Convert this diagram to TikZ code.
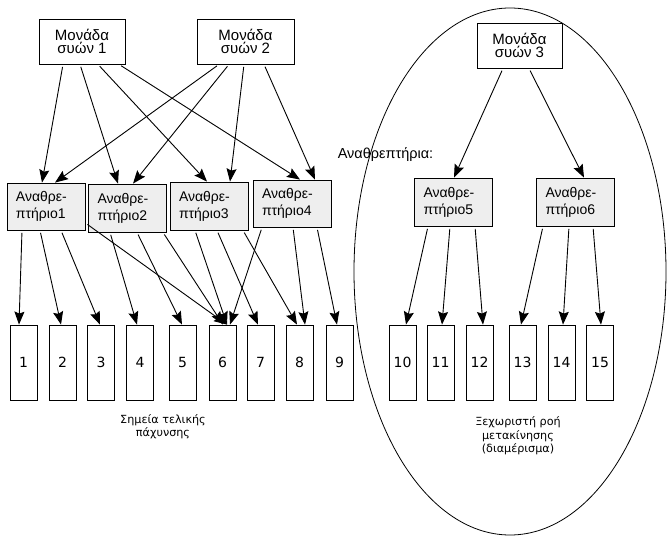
\documentclass[tikz,border=0pt]{standalone}
\usepackage{fontspec}
\setmainfont{Liberation Sans}
\newfontfamily\libfont{Liberation Sans}
\newfontfamily\dvsfont{DejaVu Sans}
\usetikzlibrary{arrows.meta}
\definecolor{reffill}{RGB}{238,238,238}
\begin{document}
\begin{tikzpicture}[x=1pt,y=-1pt,
  unitbox/.style={draw, line width=0.8pt, fill=white, minimum width=86pt, minimum height=45pt, inner sep=0pt, align=center, font=\libfont\fontsize{15}{13.5}\selectfont},
  reflbox/.style={draw, line width=0.8pt, fill=reffill, minimum width=78pt, minimum height=47pt, text width=60pt, inner xsep=9pt, inner ysep=0pt, align=left, font=\libfont\fontsize{14}{17}\selectfont},
  leafbox/.style={draw, line width=0.8pt, fill=white, minimum width=27pt, minimum height=75pt, inner sep=0pt, font=\dvsfont\fontsize{14}{14}\selectfont},
  lbltext/.style={align=center, inner sep=0pt, font=\dvsfont\fontsize{11.2}{13.5}\selectfont},
  arr/.style={-{Stealth[length=13pt,width=10pt,inset=2pt]}, line width=0.9pt, shorten <=2.5pt}
]
\useasboundingbox (0,0) rectangle (667,537);
% partition ellipse
\draw[line width=0.8pt] (510,271.5) ellipse [x radius=156pt, y radius=263.5pt];

% pig units
\node[unitbox] (m1) at (82,41.5) {Μονάδα\\συών 1};
\node[unitbox, minimum width=97pt] (m2) at (245.5,41.5) {Μονάδα\\συών 2};
\node[unitbox, minimum width=85pt] (m3) at (519.5,45.5) {Μονάδα\\συών 3};

% nurseries
\node[reflbox] (r1) at (46,206.5) {Αναθρε-\\πτήριο1};
\node[reflbox, minimum height=48pt] (r2) at (127.5,208) {Αναθρε-\\πτήριο2};
\node[reflbox, minimum height=48pt] (r3) at (209,206) {Αναθρε-\\πτήριο3};
\node[reflbox] (r4) at (292,203.5) {Αναθρε-\\πτήριο4};
\node[reflbox, minimum height=48pt] (r5) at (453.5,202) {Αναθρε-\\πτήριο5};
\node[reflbox, minimum height=48pt] (r6) at (575.5,202) {Αναθρε-\\πτήριο6};

\node[inner sep=0pt, font=\libfont\fontsize{14.5}{16}\selectfont] (rl) at (385.5,155) {Αναθρεπτήρια:};

% finishing sites
\node[leafbox] (l1) at (23.5,362.5) {1};
\node[leafbox] (l2) at (62.5,362.5) {2};
\node[leafbox] (l3) at (101,362.5) {3};
\node[leafbox] (l4) at (140,362.5) {4};
\node[leafbox] (l5) at (182.5,362.5) {5};
\node[leafbox] (l6) at (222.5,362.5) {6};
\node[leafbox] (l7) at (260.5,362.5) {7};
\node[leafbox] (l8) at (299.5,362.5) {8};
\node[leafbox] (l9) at (339.5,362.5) {9};
\node[leafbox] (l10) at (402.5,362.5) {10};
\node[leafbox] (l11) at (440.5,362.5) {11};
\node[leafbox] (l12) at (479.5,362.5) {12};
\node[leafbox] (l13) at (522.5,362.5) {13};
\node[leafbox] (l14) at (561.5,362.5) {14};
\node[leafbox] (l15) at (600,362.5) {15};

\node[lbltext] (lb1) at (163,426.5) {Σημεία τελικής\\πάχυνσης};
\node[lbltext] (lb2) at (518,436) {Ξεχωριστή ροή\\μετακίνησης\\(διαμέρισμα)};

% units -> nurseries
\draw[arr] ([xshift=-19pt]m1.south) -- ([xshift=-4pt]r1.north);
\draw[arr] ([xshift=-2pt]m1.south) -- ([xshift=-9.5pt]r2.north);
\draw[arr] ([xshift=16pt]m1.south) -- ([xshift=-2pt]r3.north);
\draw[arr] ([xshift=37pt]m1.south) -- ([xshift=8pt]r4.north);
\draw[arr] ([xshift=-26.5pt]m2.south) -- ([xshift=9pt]r1.north);
\draw[arr] ([xshift=-16.5pt]m2.south) -- ([xshift=5.5pt]r2.north);
\draw[arr] ([xshift=-1.5pt]m2.south) -- ([xshift=21pt]r3.north);
\draw[arr] ([xshift=18.5pt]m2.south) -- ([xshift=23pt]r4.north);
\draw[arr] ([xshift=-16.5pt]m3.south) -- ([xshift=0.5pt]r5.north);
\draw[arr] ([xshift=9.5pt]m3.south) -- ([xshift=8.5pt]r6.north);

% nurseries -> finishing sites
\draw[arr] ([xshift=-24pt]r1.south) -- ([xshift=-4.5pt]l1.north);
\draw[arr] ([xshift=-6pt]r1.south) -- ([xshift=-1.5pt]l2.north);
\draw[arr] ([xshift=15pt]r1.south) -- ([xshift=-1pt]l3.north);
\draw[arr] ([yshift=-16.5pt]r1.east) -- ([xshift=4.5pt]l6.north);
\draw[arr] ([xshift=-17.5pt]r2.south) -- ([xshift=-3pt]l4.north);
\draw[arr] ([xshift=9.5pt]r2.south) -- ([xshift=-0.5pt]l5.north);
\draw[arr] ([xshift=35.5pt]r2.south) -- ([xshift=0.5pt]l6.north);
\draw[arr] ([xshift=-14pt]r3.south) -- ([xshift=4.5pt]l6.north);
\draw[arr] ([xshift=8pt]r3.south) -- ([xshift=-2.5pt]l7.north);
\draw[arr] ([xshift=34pt]r3.south) -- ([xshift=-2.5pt]l8.north);
\draw[arr] ([xshift=-30pt]r4.south) -- ([xshift=7.5pt]l6.north);
\draw[arr] ([xshift=1pt]r4.south) -- ([xshift=5.5pt]l8.north);
\draw[arr] ([xshift=25pt]r4.south) -- ([xshift=-2.5pt]l9.north);
\draw[arr] ([xshift=-25.5pt]r5.south) -- ([xshift=3.5pt]l10.north);
\draw[arr] ([xshift=-3.5pt]r5.south) -- ([xshift=1.5pt]l11.north);
\draw[arr] ([xshift=21.5pt]r5.south) -- ([xshift=3.5pt]l12.north);
\draw[arr] ([xshift=-32.5pt]r6.south) -- ([xshift=-1.5pt]l13.north);
\draw[arr] ([xshift=-6.5pt]r6.south) -- ([xshift=1.5pt]l14.north);
\draw[arr] ([xshift=17.5pt]r6.south) -- ([xshift=1pt]l15.north);
\end{tikzpicture}
\end{document}
